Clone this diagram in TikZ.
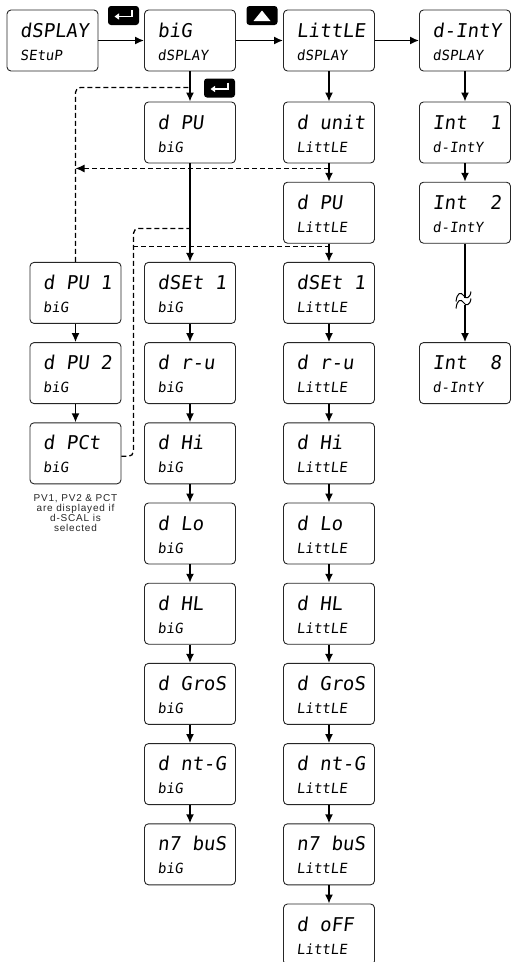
\documentclass[tikz,border=0pt]{standalone}
\usepackage{fontspec}
\setmainfont{Liberation Sans}
\newfontfamily\segfont{DejaVu Sans Mono}[FakeSlant=0.12]
\newfontfamily\notefont{Liberation Sans}[LetterSpace=8]
\usetikzlibrary{arrows.meta,calc}

\tikzset{
  dbox/.style={draw=black!85, line width=0.9pt, rounded corners=4pt, fill=white,
    minimum width=91pt, minimum height=61pt, inner sep=0pt},
  toptxt/.style={anchor=base west, inner sep=0pt, font=\segfont\fontsize{19}{19}\selectfont},
  bottxt/.style={anchor=base west, inner sep=0pt, font=\segfont\fontsize{14}{14}\selectfont},
  flow/.style={line width=1.6pt, -{Latex[length=9pt,width=8pt]}},
  plainline/.style={line width=1.6pt},
  dashline/.style={line width=1.3pt, dash pattern=on 5pt off 3pt},
  keybox/.style={fill=black, rounded corners=3pt, minimum width=31pt, minimum height=19pt, inner sep=0pt},
  keysym/.style={white, line width=1.5pt},
  notetxt/.style={inner sep=0pt, align=center, text=black!85,
    font=\notefont\fontsize{10}{10}\selectfont},
}

\newcommand\dispbox[5]{%
  \node[dbox] (#1) at ({#2+45.5},{#3+30.5}) {};
  \node[toptxt] (#1t) at ({#2+13},{#3+27}) {#4};
  \node[bottxt] (#1b) at ({#2+13},{#3+50}) {#5};
}

\begin{document}
\begin{tikzpicture}[x=1pt,y=-1pt]
\useasboundingbox (0,0) rectangle (511,962);

% columns: 7, 30, 144.5, 283.5, 419.5 ; rows: 10, 102 + 80.2(k-1)
\dispbox{setup}{7}{10}{dSPLAY}{SEtuP}
\dispbox{big}{144.5}{10}{biG}{dSPLAY}
\dispbox{little}{283.5}{10}{LittLE}{dSPLAY}
\dispbox{dinty}{419.5}{10}{d-IntY}{dSPLAY}

% big column
\dispbox{dpuB}{144.5}{102}{d~PU}{biG}
\dispbox{dsetB}{144.5}{262.4}{dSEt~1}{biG}
\dispbox{druB}{144.5}{342.6}{d~r-u}{biG}
\dispbox{dhiB}{144.5}{422.8}{d~Hi}{biG}
\dispbox{dloB}{144.5}{503}{d~Lo}{biG}
\dispbox{dhlB}{144.5}{583.2}{d~HL}{biG}
\dispbox{dgrosB}{144.5}{663.4}{d~GroS}{biG}
\dispbox{dntgB}{144.5}{743.6}{d~nt-G}{biG}
\dispbox{mbusB}{144.5}{823.8}{n7~buS}{biG}

% little column
\dispbox{dunit}{283.5}{102}{d~unit}{LittLE}
\dispbox{dpuL}{283.5}{182.2}{d~PU}{LittLE}
\dispbox{dsetL}{283.5}{262.4}{dSEt~1}{LittLE}
\dispbox{druL}{283.5}{342.6}{d~r-u}{LittLE}
\dispbox{dhiL}{283.5}{422.8}{d~Hi}{LittLE}
\dispbox{dloL}{283.5}{503}{d~Lo}{LittLE}
\dispbox{dhlL}{283.5}{583.2}{d~HL}{LittLE}
\dispbox{dgrosL}{283.5}{663.4}{d~GroS}{LittLE}
\dispbox{dntgL}{283.5}{743.6}{d~nt-G}{LittLE}
\dispbox{mbusL}{283.5}{823.8}{n7~buS}{LittLE}
\dispbox{doff}{283.5}{904}{d~oFF}{LittLE}

% intensity column
\dispbox{int1}{419.5}{102}{Int~~1}{d-IntY}
\dispbox{int2}{419.5}{182.2}{Int~~2}{d-IntY}
\dispbox{int8}{419.5}{342.6}{Int~~8}{d-IntY}

% left column
\dispbox{dpu1}{30}{262.4}{d~PU~1}{biG}
\dispbox{dpu2}{30}{342.6}{d~PU~2}{biG}
\dispbox{dpct}{30}{422.8}{d~PCt}{biG}

\node[notetxt] (note) at (75.5,513.5) {PV1, PV2 \& PCT\\are displayed if\\d-SCAL is\\selected};

% keys
\node[keybox] (key1) at (123.5,15.5) {};
\draw[keysym, -{Triangle[length=4.5pt,width=6pt]}] (132,10) -- (132,16.5) -- (114.5,16.5);
\node[keybox] (key2) at (219.5,88) {};
\draw[keysym, -{Triangle[length=4.5pt,width=6pt]}] (228,82.5) -- (228,89) -- (210.5,89);
\node[keybox] (key3) at (262,15.5) {};
\fill[white] (253.5,21) -- (270.5,21) -- (262,10.5) -- cycle;

% horizontal flow
\draw[flow] (setup.east) -- (big.west);
\draw[flow] (big.east) -- (little.west);
\draw[flow] (little.east) -- (dinty.west);

% vertical flows
\draw[flow] (big.south) -- (dpuB.north);
\draw[flow] (dpuB.south) -- (dsetB.north);
\draw[flow] (dsetB.south) -- (druB.north);
\draw[flow] (druB.south) -- (dhiB.north);
\draw[flow] (dhiB.south) -- (dloB.north);
\draw[flow] (dloB.south) -- (dhlB.north);
\draw[flow] (dhlB.south) -- (dgrosB.north);
\draw[flow] (dgrosB.south) -- (dntgB.north);
\draw[flow] (dntgB.south) -- (mbusB.north);

\draw[flow] (little.south) -- (dunit.north);
\draw[flow] (dunit.south) -- (dpuL.north);
\draw[flow] (dpuL.south) -- (dsetL.north);
\draw[flow] (dsetL.south) -- (druL.north);
\draw[flow] (druL.south) -- (dhiL.north);
\draw[flow] (dhiL.south) -- (dloL.north);
\draw[flow] (dloL.south) -- (dhlL.north);
\draw[flow] (dhlL.south) -- (dgrosL.north);
\draw[flow] (dgrosL.south) -- (dntgL.north);
\draw[flow] (dntgL.south) -- (mbusL.north);
\draw[flow] (mbusL.south) -- (doff.north);

\draw[flow] (dinty.south) -- (int1.north);
\draw[flow] (int1.south) -- (int2.north);
\coordinate (g1) at ($(int2.south)+(0,54.5)$);
\coordinate (g2) at ($(int2.south)+(0,61.5)$);
\draw[plainline] (int2.south) -- (g1);
\draw[flow] (g2) -- (int8.north);
\draw[line width=1pt] (456,301.5) .. controls (457,292.5) and (461,291.5) .. (463.5,295.5) .. controls (466,299.5) and (470,298.5) .. (471,291.5);
\draw[line width=1pt] (456,308.5) .. controls (457,299.5) and (461,298.5) .. (463.5,302.5) .. controls (466,306.5) and (470,305.5) .. (471,298.5);

\draw[flow] (dpu1.south) -- (dpu2.north);
\draw[flow] (dpu2.south) -- (dpct.north);

% dashed loops
\coordinate (j1) at ($(big.south)+(0,16)$);
\draw[dashline, rounded corners=5pt] (dpu1.north) |- (j1);
\coordinate (j2) at ($(dunit.south)+(0,5)$);
\draw[dashline, -{Latex[length=9pt,width=8pt]}] (j2) -- (dpu1.north |- j2);

\coordinate (p3) at ($(dpct.east)+(0,3)$);
\coordinate (c3) at ($(p3)+(12,0)$);
\coordinate (j3) at ($(dpuB.south)+(0,65)$);
\draw[dashline, rounded corners=5pt] (p3) -- (c3) |- (j3);
\coordinate (j4) at ($(dpuL.south)+(0,3)$);
\draw[dashline] (c3 |- j4) -- (j4);
\end{tikzpicture}
\end{document}
